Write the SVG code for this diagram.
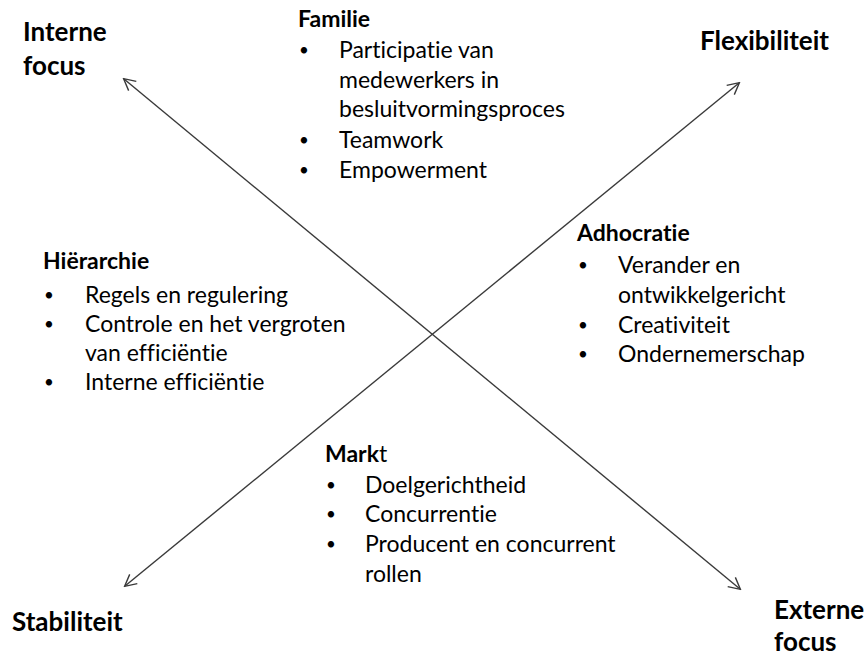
<svg xmlns="http://www.w3.org/2000/svg" width="866" height="657" viewBox="0 0 866 657">
  <style>
    text { font-family: Lato, "Open Sans", "Liberation Sans", sans-serif; fill: #000; font-variant-ligatures: none; font-feature-settings: "liga" 0, "clig" 0, "dlig" 0; }
    .axis { font-size: 26px; font-weight: bold; }
    .head { font-size: 23px; font-weight: bold; }
    .item { font-size: 23px; }
    .dot { font-size: 17px; }
    .conn { stroke: #3a3a3a; stroke-width: 1.4; fill: none; }
  </style>
  <defs>
    <marker id="open-arrow" viewBox="0 0 14 14" refX="12" refY="7" markerWidth="14" markerHeight="14" markerUnits="userSpaceOnUse" orient="auto-start-reverse">
      <path d="M1,1 L12.5,7 L1,13" fill="none" stroke="#3a3a3a" stroke-width="1.4"/>
    </marker>
  </defs>
  <rect width="866" height="657" fill="#fff"/>

  <!-- crossing axes -->
  <g id="connectors">
    <line class="conn" x1="124" y1="79" x2="740" y2="589" marker-start="url(#open-arrow)" marker-end="url(#open-arrow)"/>
    <line class="conn" x1="125" y1="586" x2="739" y2="83" marker-start="url(#open-arrow)" marker-end="url(#open-arrow)"/>
  </g>

  <!-- axis end labels -->
  <g id="interne-focus">
    <text class="axis" x="23" y="41">Interne</text>
    <text class="axis" x="23" y="75">focus</text>
  </g>
  <g id="flexibiliteit">
    <text class="axis" x="700" y="50">Flexibiliteit</text>
  </g>
  <g id="stabiliteit">
    <text class="axis" x="12" y="631">Stabiliteit</text>
  </g>
  <g id="externe-focus">
    <text class="axis" x="774" y="619">Externe</text>
    <text class="axis" x="774" y="651">focus</text>
  </g>

  <!-- quadrant: Familie -->
  <g id="familie">
    <text class="head" x="298" y="27">Familie</text>
    <text class="dot" x="299" y="56">•</text>
    <text class="item" x="339" y="58">Participatie van</text>
    <text class="item" x="339" y="88">medewerkers in</text>
    <text class="item" x="339" y="117">besluitvormingsproces</text>
    <text class="dot" x="299" y="146">•</text>
    <text class="item" x="339" y="148">Teamwork</text>
    <text class="dot" x="299" y="176">•</text>
    <text class="item" x="339" y="178">Empowerment</text>
  </g>

  <!-- quadrant: Hiërarchie -->
  <g id="hierarchie">
    <text class="head" x="43" y="269">Hiërarchie</text>
    <text class="dot" x="44" y="301">•</text>
    <text class="item" x="85" y="303">Regels en regulering</text>
    <text class="dot" x="44" y="330">•</text>
    <text class="item" x="85" y="332">Controle en het vergroten</text>
    <text class="item" x="85" y="361">van efficiëntie</text>
    <text class="dot" x="44" y="388">•</text>
    <text class="item" x="85" y="390">Interne efficiëntie</text>
  </g>

  <!-- quadrant: Adhocratie -->
  <g id="adhocratie">
    <text class="head" x="577" y="241">Adhocratie</text>
    <text class="dot" x="578" y="271">•</text>
    <text class="item" x="618" y="273">Verander en</text>
    <text class="item" x="618" y="303">ontwikkelgericht</text>
    <text class="dot" x="578" y="331">•</text>
    <text class="item" x="618" y="333">Creativiteit</text>
    <text class="dot" x="578" y="360">•</text>
    <text class="item" x="618" y="362">Ondernemerschap</text>
  </g>

  <!-- quadrant: Markt -->
  <g id="markt">
    <text class="head" x="325" y="462">Mark<tspan font-weight="normal">t</tspan></text>
    <text class="dot" x="326" y="491">•</text>
    <text class="item" x="365" y="493">Doelgerichtheid</text>
    <text class="dot" x="326" y="520">•</text>
    <text class="item" x="365" y="522">Concurrentie</text>
    <text class="dot" x="326" y="550">•</text>
    <text class="item" x="365" y="552">Producent en concurrent</text>
    <text class="item" x="365" y="582">rollen</text>
  </g>
</svg>
